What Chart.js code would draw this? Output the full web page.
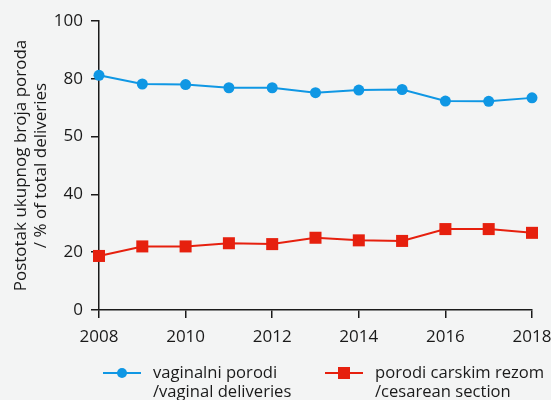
<!DOCTYPE html>
<html>
<head>
<meta charset="utf-8">
<script src="https://cdn.jsdelivr.net/npm/chart.js@4"></script>
<style>
html,body{margin:0;padding:0;background:#f3f4f4;}
#wrap{width:551px;height:400px;position:relative;}
</style>
</head>
<body>
<div id="wrap"><canvas id="c" width="551" height="400"></canvas></div>
<script>
const years = [2008, 2009, 2010, 2011, 2012, 2013, 2014, 2015, 2016, 2017, 2018];
const vaginal = [81.2, 78.2, 78.0, 76.9, 76.9, 75.2, 76.1, 76.3, 72.3, 72.2, 73.4];
const cesarean = [18.7, 22.0, 22.0, 23.1, 22.8, 25.0, 24.1, 23.9, 28.0, 28.0, 26.7];
const yTickLabels = ['0', '20', '40', '50', '80', '100'];
const yTitle = ['Postotak ukupnog broja poroda', '/ % of total deliveries'];
const legendLabels = [['vaginalni porodi', '/vaginal deliveries'], ['porodi carskim rezom', '/cesarean section']];

const FONT = '"Open Sans", sans-serif';
const BLUE = '#0f97e4';
const RED = '#e6200e';
const INK = '#1a1a1a';

const extras = {
  id: 'extras',
  beforeDraw(chart) {
    const ctx = chart.ctx;
    ctx.save();
    ctx.fillStyle = '#f3f4f4';
    ctx.fillRect(0, 0, chart.width, chart.height);
    ctx.restore();
  },
  afterDraw(chart) {
    const ctx = chart.ctx;
    const area = chart.chartArea;
    ctx.save();
    ctx.fillStyle = INK;
    ctx.font = '17px ' + FONT;
    ctx.textAlign = 'center';
    ctx.textBaseline = 'middle';
    const cy = (area.top + area.bottom) / 2;
    ctx.translate(0, cy);
    ctx.rotate(-Math.PI / 2);
    ctx.fillText(yTitle[0], 0, 21);
    ctx.fillText(yTitle[1], 0, 41);
    ctx.restore();

    ctx.save();
    const items = [
      {x: 103, color: BLUE, style: 'circle', text: legendLabels[0]},
      {x: 325, color: RED, style: 'rect', text: legendLabels[1]}
    ];
    const ly = 373;
    items.forEach(it => {
      ctx.strokeStyle = it.color;
      ctx.lineWidth = 2;
      ctx.beginPath();
      ctx.moveTo(it.x, ly);
      ctx.lineTo(it.x + 38, ly);
      ctx.stroke();
      ctx.fillStyle = it.color;
      const mx = it.x + 19;
      if (it.style === 'circle') {
        ctx.beginPath();
        ctx.arc(mx, ly, 5, 0, Math.PI * 2);
        ctx.fill();
      } else {
        ctx.fillRect(mx - 6, ly - 6, 12, 12);
      }
      ctx.fillStyle = INK;
      ctx.font = '16.6px ' + FONT;
      ctx.textAlign = 'left';
      ctx.textBaseline = 'middle';
      ctx.fillText(it.text[0], it.x + 50, ly);
      ctx.fillText(it.text[1], it.x + 50, ly + 19);
    });
    ctx.restore();
  }
};

new Chart(document.getElementById('c'), {
  type: 'line',
  data: {
    datasets: [
      {
        label: legendLabels[0].join(' '),
        data: years.map((y, i) => ({x: y, y: vaginal[i]})),
        borderColor: BLUE,
        backgroundColor: BLUE,
        borderWidth: 2,
        pointStyle: 'circle',
        pointRadius: 5.5,
        pointBorderWidth: 0,
        tension: 0
      },
      {
        label: legendLabels[1].join(' '),
        data: years.map((y, i) => ({x: y, y: cesarean[i]})),
        borderColor: RED,
        backgroundColor: RED,
        borderWidth: 2,
        pointStyle: 'rect',
        pointRadius: 8.5,
        pointBorderWidth: 0,
        tension: 0
      }
    ]
  },
  options: {
    responsive: false,
    animation: false,
    clip: false,
    layout: {padding: {top: 21, right: 19, left: 0, bottom: 0}},
    plugins: {legend: {display: false}, tooltip: {enabled: false}},
    scales: {
      x: {
        type: 'linear',
        min: 2008, max: 2018,
        afterFit: s => { s.height = 90; s.paddingRight = 0; s.paddingLeft = 0; },
        border: {color: INK, width: 1.5},
        grid: {drawOnChartArea: false, drawTicks: true, tickLength: 8, color: INK, lineWidth: 1.5},
        ticks: {stepSize: 2, color: INK, font: {family: FONT, size: 17}, padding: 9, callback: v => String(v)}
      },
      y: {
        min: 0, max: 100,
        afterFit: s => { s.width = 99; s.paddingTop = 0; s.paddingBottom = 0; },
        border: {color: INK, width: 1.5},
        grid: {drawOnChartArea: false, drawTicks: true, tickLength: 8, color: INK, lineWidth: 1.5},
        ticks: {stepSize: 20, color: INK, font: {family: FONT, size: 17}, padding: 8,
          callback: (v, i) => yTickLabels[i]}
      }
    }
  },
  plugins: [extras]
});
</script>
</body>
</html>
